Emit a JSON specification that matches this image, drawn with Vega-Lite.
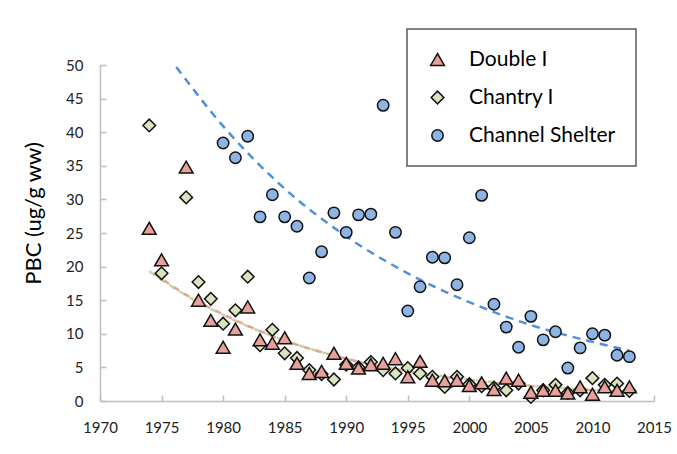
{
  "$schema": "https://vega.github.io/schema/vega-lite/v6.json",
  "width": 554,
  "height": 336,
  "autosize": {"type": "none"},
  "padding": {"left": 100, "top": 65, "right": 23, "bottom": 53},
  "background": "white",
  "config": {
    "view": {"stroke": null},
    "legend": {
      "orient": "none", "legendX": 307, "legendY": -36,
      "padding": 20, "rowPadding": 16, "labelOffset": 21,
      "labelFont": "Lato", "labelFontSize": 21, "labelColor": "#000",
      "symbolStrokeWidth": 1.5,
      "strokeColor": "#595959", "strokeWidth": 1.5, "fillColor": "white"
    }
  },
  "datasets": {
    "pts": [
      {"site": "Chantry I", "year": 1974, "pcb": 41.0},
      {"site": "Chantry I", "year": 1975, "pcb": 19.0},
      {"site": "Chantry I", "year": 1977, "pcb": 30.3},
      {"site": "Chantry I", "year": 1978, "pcb": 17.7},
      {"site": "Chantry I", "year": 1979, "pcb": 15.2},
      {"site": "Chantry I", "year": 1980, "pcb": 11.5},
      {"site": "Chantry I", "year": 1981, "pcb": 13.5},
      {"site": "Chantry I", "year": 1982, "pcb": 18.5},
      {"site": "Chantry I", "year": 1983, "pcb": 8.3},
      {"site": "Chantry I", "year": 1984, "pcb": 10.6},
      {"site": "Chantry I", "year": 1985, "pcb": 7.1},
      {"site": "Chantry I", "year": 1986, "pcb": 6.4},
      {"site": "Chantry I", "year": 1987, "pcb": 4.6},
      {"site": "Chantry I", "year": 1988, "pcb": 4.0},
      {"site": "Chantry I", "year": 1989, "pcb": 3.2},
      {"site": "Chantry I", "year": 1990, "pcb": 5.4},
      {"site": "Chantry I", "year": 1991, "pcb": 5.0},
      {"site": "Chantry I", "year": 1992, "pcb": 5.8},
      {"site": "Chantry I", "year": 1993, "pcb": 4.6},
      {"site": "Chantry I", "year": 1994, "pcb": 4.1},
      {"site": "Chantry I", "year": 1995, "pcb": 4.9},
      {"site": "Chantry I", "year": 1996, "pcb": 4.1},
      {"site": "Chantry I", "year": 1997, "pcb": 3.6},
      {"site": "Chantry I", "year": 1998, "pcb": 2.1},
      {"site": "Chantry I", "year": 1999, "pcb": 3.6},
      {"site": "Chantry I", "year": 2000, "pcb": 2.5},
      {"site": "Chantry I", "year": 2001, "pcb": 2.2},
      {"site": "Chantry I", "year": 2002, "pcb": 2.0},
      {"site": "Chantry I", "year": 2003, "pcb": 1.6},
      {"site": "Chantry I", "year": 2004, "pcb": 2.6},
      {"site": "Chantry I", "year": 2005, "pcb": 0.6},
      {"site": "Chantry I", "year": 2006, "pcb": 1.6},
      {"site": "Chantry I", "year": 2007, "pcb": 2.4},
      {"site": "Chantry I", "year": 2008, "pcb": 1.2},
      {"site": "Chantry I", "year": 2009, "pcb": 1.6},
      {"site": "Chantry I", "year": 2010, "pcb": 3.4},
      {"site": "Chantry I", "year": 2011, "pcb": 2.4},
      {"site": "Chantry I", "year": 2012, "pcb": 2.6},
      {"site": "Chantry I", "year": 2013, "pcb": 1.5},
      {"site": "Double I", "year": 1974, "pcb": 25.7},
      {"site": "Double I", "year": 1975, "pcb": 21.0},
      {"site": "Double I", "year": 1977, "pcb": 34.8},
      {"site": "Double I", "year": 1978, "pcb": 15.0},
      {"site": "Double I", "year": 1979, "pcb": 12.0},
      {"site": "Double I", "year": 1980, "pcb": 8.0},
      {"site": "Double I", "year": 1981, "pcb": 10.7},
      {"site": "Double I", "year": 1982, "pcb": 14.0},
      {"site": "Double I", "year": 1983, "pcb": 9.1},
      {"site": "Double I", "year": 1984, "pcb": 8.6},
      {"site": "Double I", "year": 1985, "pcb": 9.4},
      {"site": "Double I", "year": 1986, "pcb": 5.6},
      {"site": "Double I", "year": 1987, "pcb": 4.1},
      {"site": "Double I", "year": 1988, "pcb": 4.4},
      {"site": "Double I", "year": 1989, "pcb": 7.1},
      {"site": "Double I", "year": 1990, "pcb": 5.6},
      {"site": "Double I", "year": 1991, "pcb": 4.9},
      {"site": "Double I", "year": 1992, "pcb": 5.4},
      {"site": "Double I", "year": 1993, "pcb": 5.6},
      {"site": "Double I", "year": 1994, "pcb": 6.3},
      {"site": "Double I", "year": 1995, "pcb": 3.6},
      {"site": "Double I", "year": 1996, "pcb": 5.9},
      {"site": "Double I", "year": 1997, "pcb": 3.1},
      {"site": "Double I", "year": 1998, "pcb": 3.0},
      {"site": "Double I", "year": 1999, "pcb": 3.1},
      {"site": "Double I", "year": 2000, "pcb": 2.3},
      {"site": "Double I", "year": 2001, "pcb": 2.7},
      {"site": "Double I", "year": 2002, "pcb": 1.7},
      {"site": "Double I", "year": 2003, "pcb": 3.4},
      {"site": "Double I", "year": 2004, "pcb": 3.1},
      {"site": "Double I", "year": 2005, "pcb": 1.3},
      {"site": "Double I", "year": 2006, "pcb": 1.6},
      {"site": "Double I", "year": 2007, "pcb": 1.6},
      {"site": "Double I", "year": 2008, "pcb": 1.2},
      {"site": "Double I", "year": 2009, "pcb": 2.1},
      {"site": "Double I", "year": 2010, "pcb": 1.0},
      {"site": "Double I", "year": 2011, "pcb": 2.1},
      {"site": "Double I", "year": 2012, "pcb": 1.6},
      {"site": "Double I", "year": 2013, "pcb": 2.1},
      {"site": "Channel Shelter", "year": 1980, "pcb": 38.4},
      {"site": "Channel Shelter", "year": 1981, "pcb": 36.2},
      {"site": "Channel Shelter", "year": 1982, "pcb": 39.4},
      {"site": "Channel Shelter", "year": 1983, "pcb": 27.4},
      {"site": "Channel Shelter", "year": 1984, "pcb": 30.7},
      {"site": "Channel Shelter", "year": 1985, "pcb": 27.4},
      {"site": "Channel Shelter", "year": 1986, "pcb": 26.0},
      {"site": "Channel Shelter", "year": 1987, "pcb": 18.3},
      {"site": "Channel Shelter", "year": 1988, "pcb": 22.2},
      {"site": "Channel Shelter", "year": 1989, "pcb": 28.0},
      {"site": "Channel Shelter", "year": 1990, "pcb": 25.1},
      {"site": "Channel Shelter", "year": 1991, "pcb": 27.7},
      {"site": "Channel Shelter", "year": 1992, "pcb": 27.8},
      {"site": "Channel Shelter", "year": 1993, "pcb": 44.0},
      {"site": "Channel Shelter", "year": 1994, "pcb": 25.1},
      {"site": "Channel Shelter", "year": 1995, "pcb": 13.4},
      {"site": "Channel Shelter", "year": 1996, "pcb": 17.0},
      {"site": "Channel Shelter", "year": 1997, "pcb": 21.4},
      {"site": "Channel Shelter", "year": 1998, "pcb": 21.3},
      {"site": "Channel Shelter", "year": 1999, "pcb": 17.3},
      {"site": "Channel Shelter", "year": 2000, "pcb": 24.3},
      {"site": "Channel Shelter", "year": 2001, "pcb": 30.6},
      {"site": "Channel Shelter", "year": 2002, "pcb": 14.4},
      {"site": "Channel Shelter", "year": 2003, "pcb": 11.0},
      {"site": "Channel Shelter", "year": 2004, "pcb": 8.0},
      {"site": "Channel Shelter", "year": 2005, "pcb": 12.6},
      {"site": "Channel Shelter", "year": 2006, "pcb": 9.1},
      {"site": "Channel Shelter", "year": 2007, "pcb": 10.3},
      {"site": "Channel Shelter", "year": 2008, "pcb": 4.9},
      {"site": "Channel Shelter", "year": 2009, "pcb": 7.9},
      {"site": "Channel Shelter", "year": 2010, "pcb": 10.0},
      {"site": "Channel Shelter", "year": 2011, "pcb": 9.8},
      {"site": "Channel Shelter", "year": 2012, "pcb": 6.8},
      {"site": "Channel Shelter", "year": 2013, "pcb": 6.6}
    ],
    "trendD": [
      {"year": 1974, "pcb": 19.5}, {"year": 1977, "pcb": 15.8}, {"year": 1980, "pcb": 12.9},
      {"year": 1985, "pcb": 9.0}, {"year": 1990, "pcb": 6.3}, {"year": 1995, "pcb": 4.4},
      {"year": 2000, "pcb": 3.1}, {"year": 2005, "pcb": 2.2}, {"year": 2010, "pcb": 1.6},
      {"year": 2013, "pcb": 1.3}
    ],
    "trendC": [
      {"year": 1974, "pcb": 19.3}, {"year": 1977, "pcb": 15.7}, {"year": 1980, "pcb": 12.8},
      {"year": 1985, "pcb": 9.0}, {"year": 1990, "pcb": 6.3}, {"year": 1995, "pcb": 4.5},
      {"year": 2000, "pcb": 3.2}, {"year": 2005, "pcb": 2.3}, {"year": 2010, "pcb": 1.65},
      {"year": 2013, "pcb": 1.4}
    ],
    "trendS": [
      {"year": 1976.2, "pcb": 49.7}, {"year": 1980, "pcb": 40.9}, {"year": 1985, "pcb": 31.6},
      {"year": 1990, "pcb": 24.5}, {"year": 1995, "pcb": 19.0}, {"year": 2000, "pcb": 14.7},
      {"year": 2005, "pcb": 11.3}, {"year": 2010, "pcb": 8.8}, {"year": 2013, "pcb": 7.5}
    ]
  },
  "encoding": {
    "x": {
      "field": "year", "type": "quantitative",
      "scale": {"domain": [1970, 2015], "nice": false, "zero": false},
      "axis": {
        "values": [1970, 1975, 1980, 1985, 1990, 1995, 2000, 2005, 2010, 2015],
        "format": "d", "title": null, "grid": false,
        "tickSize": -6, "labelPadding": 25,
        "domainColor": "#BFBFBF", "tickColor": "#BFBFBF", "domainWidth": 1.5, "tickWidth": 1.5,
        "labelFont": "Lato", "labelFontSize": 15, "labelColor": "#222",
        "labelFlush": false, "labelOverlap": false
      }
    },
    "y": {
      "field": "pcb", "type": "quantitative",
      "scale": {"domain": [0, 50], "nice": false},
      "axis": {
        "values": [0, 5, 10, 15, 20, 25, 30, 35, 40, 45, 50],
        "title": "PBC (ug/g ww)", "grid": false,
        "tickSize": -6, "labelPadding": 23,
        "domainColor": "#BFBFBF", "tickColor": "#BFBFBF", "domainWidth": 1.5, "tickWidth": 1.5,
        "labelFont": "Lato", "labelFontSize": 15, "labelColor": "#222",
        "titleFont": "Lato", "titleFontSize": 22, "titleFontWeight": "normal", "titleColor": "#000",
        "titleX": -67, "titleY": 148, "titleBaseline": "middle", "titleAngle": -90
      }
    }
  },
  "layer": [
    {
      "data": {"name": "trendS"},
      "mark": {"type": "line", "interpolate": "monotone", "stroke": "#4F8FDC", "strokeWidth": 2.5, "strokeDash": [8, 6]}
    },
    {
      "data": {"name": "trendC"},
      "mark": {"type": "line", "interpolate": "monotone", "stroke": "#C4D79B", "strokeWidth": 2.5, "strokeDash": [7, 5]}
    },
    {
      "data": {"name": "trendD"},
      "mark": {"type": "line", "interpolate": "monotone", "stroke": "#E8A09A", "strokeWidth": 2.5, "strokeDash": [6, 6], "strokeDashOffset": 6}
    },
    {
      "data": {"name": "pts"},
      "mark": {"type": "point", "filled": true, "strokeWidth": 1.5, "opacity": 1},
      "encoding": {
        "shape": {
          "field": "site", "type": "nominal",
          "scale": {"domain": ["Double I", "Chantry I", "Channel Shelter"], "range": ["triangle-up", "diamond", "circle"]},
          "legend": {"title": null}
        },
        "fill": {
          "field": "site", "type": "nominal",
          "scale": {"domain": ["Double I", "Chantry I", "Channel Shelter"], "range": ["#E8A09A", "#D7E4BD", "#8DB4E2"]},
          "legend": {"title": null}
        },
        "stroke": {
          "field": "site", "type": "nominal",
          "scale": {"domain": ["Double I", "Chantry I", "Channel Shelter"], "range": ["#111111", "#111111", "#111111"]},
          "legend": {"title": null}
        },
        "size": {
          "field": "site", "type": "nominal",
          "scale": {"domain": ["Double I", "Chantry I", "Channel Shelter"], "range": [190, 130, 170]},
          "legend": {"title": null}
        }
      }
    }
  ]
}
